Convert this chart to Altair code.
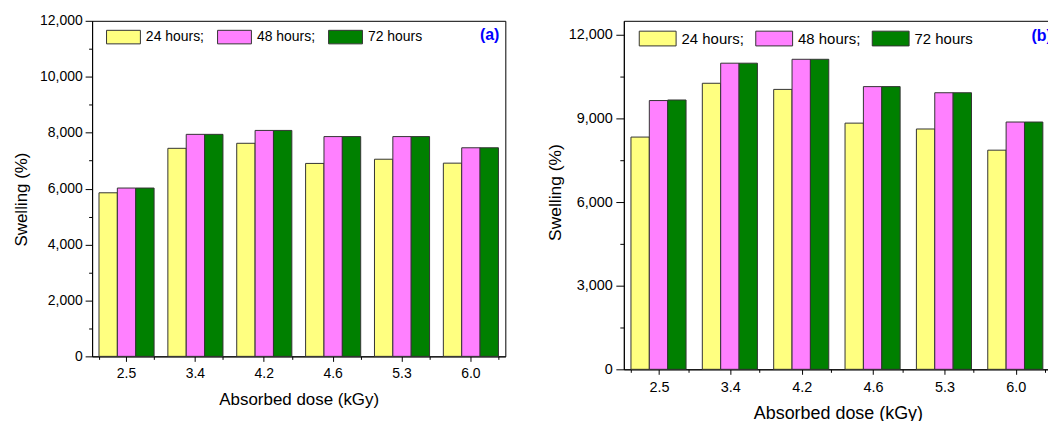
import altair as alt
import pandas as pd

# Absorbed dose groups and the three immersion times
doses = ["2.5", "3.4", "4.2", "4.6", "5.3", "6.0"]
series = ["24 hours;", "48 hours;", "72 hours"]
colors = ["#FFFF80", "#FF80FF", "#008000"]

# Panel (a): swelling (%)
swell_a_24 = [5850, 7440, 7620, 6900, 7050, 6910]
swell_a_48 = [6020, 7940, 8080, 7860, 7860, 7460]
swell_a_72 = [6020, 7940, 8080, 7860, 7860, 7460]

# Panel (b): swelling (%)
swell_b_24 = [8330, 10260, 10040, 8830, 8620, 7860]
swell_b_48 = [9640, 10980, 11120, 10140, 9920, 8870]
swell_b_72 = [9660, 10980, 11120, 10140, 9920, 8870]

FONT = "Liberation Sans"
SWATCH = "M-1,-0.4H1V0.4H-1Z"


def long_table(columns):
    rows = []
    for name, values in zip(series, columns):
        for dose, v in zip(doses, values):
            rows.append({"dose": dose, "series": name, "swelling": v})
    return pd.DataFrame(rows)


def panel(df, tag, width, height, ymax, major, minor, s):
    xscale = alt.Scale(domain=doses, paddingInner=0.2, paddingOuter=0.1)
    yscale = alt.Scale(domain=[0, ymax], nice=False, zero=True)

    y_axis = alt.Axis(
        values=list(range(0, ymax + 1, minor)),
        labelExpr=f"datum.value % {major} === 0 ? format(datum.value, ',') : ''",
        tickSize={"condition": {"test": f"datum.value % {major} === 0",
                                "value": s["ytick"]},
                  "value": s["ytick"] / 2},
        labelOverlap=False,
        labelFontSize=s["tick_fs"],
        labelPadding=s["ylabpad"],
        title="Swelling (%)",
        titleFontSize=s["ytitle_fs"],
        titlePadding=s["ytitlepad"],
        titleY=s["ytitley"],
        grid=False,
    )
    x_axis = alt.Axis(
        orient="bottom",
        labelAngle=0,
        labelFontSize=s["tick_fs"],
        labelPadding=s["xlabpad"],
        tickSize=5,
        title="Absorbed dose (kGy)",
        titleFontSize=s["xtitle_fs"],
        titlePadding=s["xtitlepad"],
        grid=False,
    )
    legend = alt.Legend(
        orient="none",
        legendX=s["legx"],
        legendY=s["legy"],
        direction="horizontal",
        title=None,
        symbolType=SWATCH,
        symbolSize=s["sym"] ** 2,
        symbolStrokeColor="#333333",
        symbolStrokeWidth=1,
        symbolOpacity=1,
        labelFont=FONT,
        labelFontSize=s["leg_fs"],
        labelColor="black",
        labelOffset=5,
        columnPadding=s["colpad"],
        padding=0,
    )

    bars = alt.Chart(df).mark_bar(stroke="#333333", strokeWidth=1).encode(
        x=alt.X("dose:N", sort=doses, scale=xscale, axis=x_axis),
        xOffset=alt.XOffset("series:N", sort=series,
                            scale=alt.Scale(paddingInner=0, paddingOuter=0)),
        y=alt.Y("swelling:Q", scale=yscale, axis=y_axis),
        color=alt.Color("series:N", sort=series,
                        scale=alt.Scale(domain=series, range=colors),
                        legend=legend),
    )

    # short ticks on the group boundaries
    boundaries = alt.Chart(df).mark_bar(opacity=0).encode(
        x=alt.X("dose:N", sort=doses, scale=xscale,
                axis=alt.Axis(orient="bottom", tickBand="extent", labels=False,
                              domain=False, tickSize=3, title=None, grid=False)),
    )

    label = alt.Chart(pd.DataFrame({"tag": [tag]})).mark_text(
        align=s["tagalign"], baseline="middle", font=FONT, fontSize=16,
        fontWeight="bold", color="#0000FF", clip=True,
    ).encode(text="tag:N", x=alt.value(s["tagx"]), y=alt.value(s["tagy"]))

    return (
        alt.layer(bars, boundaries, label)
        .resolve_axis(x="independent")
        .properties(width=width, height=height)
    )


left = panel(
    long_table([swell_a_24, swell_a_48, swell_a_72]), "(a)", 415, 337,
    12000, 2000, 1000,
    dict(ytick=7, tick_fs=14, ylabpad=3, ytitle_fs=17, ytitlepad=9.5,
         ytitley=179, xlabpad=5, xtitle_fs=17, xtitlepad=11, legx=14,
         legy=-1.5, sym=34, leg_fs=14, colpad=10.5, tagx=409, tagy=14,
         tagalign="right"),
)
right = panel(
    long_table([swell_b_24, swell_b_48, swell_b_72]), "(b)", 430, 350,
    12500, 3000, 1500,
    dict(ytick=8, tick_fs=14.5, ylabpad=3.5, ytitle_fs=17.5, ytitlepad=3.75,
         ytitley=172, xlabpad=6, xtitle_fs=18, xtitlepad=10.5, legx=15,
         legy=-1.5, sym=37, leg_fs=15, colpad=9, tagx=409.5, tagy=15,
         tagalign="left"),
)

chart = (
    alt.hconcat(left, right, spacing=39)
    .resolve_legend(color="independent")
    .properties(padding={"left": 11.5, "top": 12, "right": -5, "bottom": -3},
                background="white")
    .configure_view(stroke="black", strokeWidth=1)
    .configure_axis(
        domainColor="black", tickColor="black", labelColor="black",
        titleColor="black", labelFont=FONT, titleFont=FONT,
        titleFontWeight="normal", domainWidth=1, tickWidth=1,
    )
)

chart.save("out.html", embed_options={"renderer": "svg", "actions": False})
